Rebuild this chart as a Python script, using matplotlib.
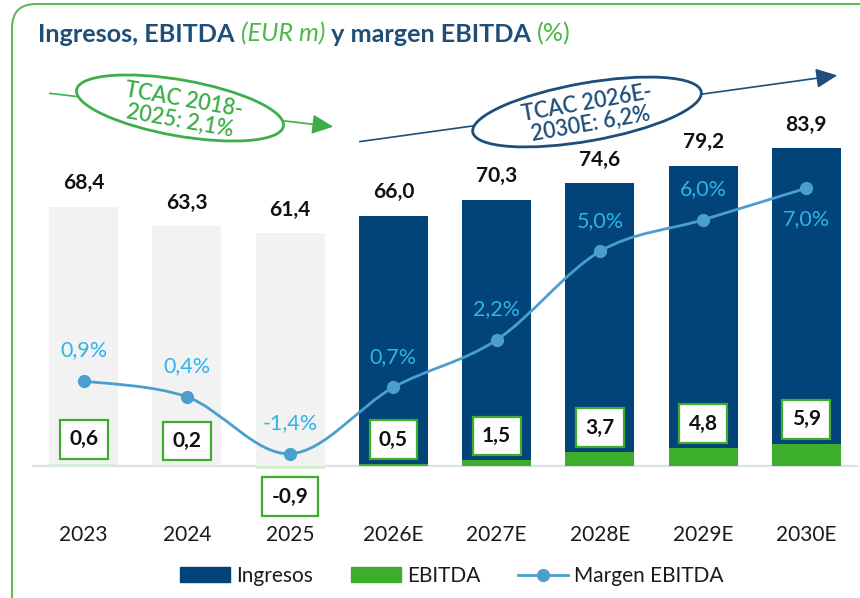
import matplotlib
matplotlib.use('Agg')
import numpy as np
import matplotlib.pyplot as plt
from matplotlib.path import Path
from matplotlib.patches import PathPatch, Ellipse, FancyBboxPatch, Patch, FancyArrowPatch
from matplotlib.lines import Line2D
from matplotlib.transforms import Affine2D

plt.rcParams['font.family'] = ['Lato', 'DejaVu Sans']

years = ['2023', '2024', '2025', '2026E', '2027E', '2028E', '2029E', '2030E']
ingresos = [68.4, 63.3, 61.4, 66.0, 70.3, 74.6, 79.2, 83.9]
ebitda = [0.6, 0.2, -0.9, 0.5, 1.5, 3.7, 4.8, 5.9]
margen = [0.9, 0.4, -1.4, 0.7, 2.2, 5.0, 6.0, 7.0]
n_real = 3  # 2023-2025 are actuals, the rest are estimates

DARK_BLUE = '#02437A'
TITLE_BLUE = '#1F4E79'
GREEN = '#3DAE2B'
LIGHT_GREEN = '#D4F0CF'
GREY = '#F2F2F2'
LINE_BLUE = '#4A9FCF'
PCT_BLUE = '#2DB4E8'


def fmt(v):
    return f'{v:.1f}'.replace('.', ',')


W, H = 860, 598
fig = plt.figure(figsize=(W / 100, H / 100), dpi=100)
# pixel coordinates measured from the top-left corner
pix = Affine2D().scale(1 / 100, -1 / 100).translate(0, H / 100) + fig.dpi_scale_trans

ax = fig.add_axes([32 / W, 1 - 500 / H, (858 - 32) / W, 400 / H])
ax2 = ax.twinx()

x = np.arange(len(years))
bar_cols = [GREY] * n_real + [DARK_BLUE] * (len(years) - n_real)
ebit_cols = [LIGHT_GREEN] * n_real + [GREEN] * (len(years) - n_real)

ax.bar(x, ingresos, width=0.67, color=bar_cols, zorder=2)
ax.bar(x, ebitda, width=0.67, color=ebit_cols, zorder=3)
ax.axhline(0, color='#DCE1E7', lw=1.6, zorder=1)

for xi, v in zip(x, ingresos):
    ax.annotate(fmt(v), (xi, v), xytext=(0, 17), textcoords='offset points',
                ha='center', va='center', fontsize=15, fontweight='bold', color='#111111')

for xi, v in zip(x, ebitda):
    off = 17.5 if v >= 0 else -19.5
    ax.annotate(fmt(v), (xi, v), xytext=(0, off), textcoords='offset points',
                ha='center', va='center', fontsize=15, fontweight='bold', color='#111111',
                zorder=6,
                bbox=dict(boxstyle='square,pad=0.45', fc='white', ec=GREEN, lw=1.6))

ax.set_xlim(-0.5, len(years) - 0.5)
ax.set_ylim(-8.97, 96.6)
ax2.set_ylim(-2.864, 9.79)

# smoothed margin line (Bezier segments through the data points)
pts = np.column_stack([x, margen]).astype(float)
ext = np.vstack([pts[0], pts, pts[-1]])
verts = [pts[0]]
codes = [Path.MOVETO]
for i in range(len(pts) - 1):
    p0, p1, p2, p3 = ext[i], ext[i + 1], ext[i + 2], ext[i + 3]
    verts += [p1 + (p2 - p0) / 6, p2 - (p3 - p1) / 6, p2]
    codes += [Path.CURVE4] * 3
ax2.add_patch(PathPatch(Path(verts, codes), fc='none', ec=LINE_BLUE, lw=2.0, zorder=4))
ax2.plot(x, margen, 'o', color=LINE_BLUE, ms=8.5, zorder=5)

for i, (xi, v) in enumerate(zip(x, margen)):
    off = -22 if i == len(margen) - 1 else 22
    ax2.annotate(fmt(v) + '%', (xi, v), xytext=(0, off), textcoords='offset points',
                 ha='center', va='center', fontsize=15.5, color=PCT_BLUE)

ax.set_xticks(x, years)
ax.tick_params(axis='x', length=0, pad=18, labelsize=15, labelcolor='#1A1A1A')
ax.set_yticks([])
ax2.set_yticks([])
for a in (ax, ax2):
    for s in a.spines.values():
        s.set_visible(False)

# title in coloured pieces
title_parts = [
    ('Ingresos, EBITDA ', TITLE_BLUE, 'bold', 'normal'),
    ('(EUR m)', '#4DB848', 'normal', 'italic'),
    (' y margen EBITDA ', TITLE_BLUE, 'bold', 'normal'),
    ('(%)', '#4DB848', 'normal', 'normal'),
]
renderer = fig.canvas.get_renderer()
tx = 38
for s, c, w, st in title_parts:
    t = fig.text(0, 0, s, color=c, fontweight=w, fontstyle=st, fontsize=18.2,
                 ha='left', va='center', transform=pix)
    t.set_position((tx, 34))
    tx += t.get_window_extent(renderer).width * 100 / fig.dpi

# CAGR arrows with labelled ellipses
for (x0, y0), (x1, y1), (cx, cy), (ew, eh), ang, label, col in [
    ((47, 93), (336, 127), (180, 108), (210, 56), -10, 'TCAC 2018-\n2025: 2,1%', '#3DAE49'),
    ((357, 142), (840, 75), (587, 112), (232, 58), 10, 'TCAC 2026E-\n2030E: 6,2%', TITLE_BLUE),
]:
    fig.patches.append(FancyArrowPatch((x0, y0), (x1, y1), transform=pix,
                                       arrowstyle='-|>,head_length=13,head_width=6',
                                       mutation_scale=1, color=col, lw=1.2))
    fig.patches.append(Ellipse((cx, cy), ew, eh, angle=-ang,
                               transform=pix, fc='white', ec=col, lw=2.0))
    fig.text(cx + 2, cy + 2, label, transform=pix, rotation=ang, rotation_mode='anchor',
             ha='center', va='center', fontsize=15.5, fontweight='semibold', color=col,
             linespacing=1.0, multialignment='center')

# outer rounded frame
fig.patches.append(FancyBboxPatch((12, 4), 880, 620, transform=pix,
                                  boxstyle='round,pad=0,rounding_size=24',
                                  fc='none', ec='#5DBB55', lw=1.5))

handles = [
    Patch(color=DARK_BLUE, label='Ingresos'),
    Patch(color=GREEN, label='EBITDA'),
    Line2D([], [], color=LINE_BLUE, lw=2.0, marker='o', ms=8.5, label='Margen EBITDA'),
]
fig.legend(handles=handles, loc='center', bbox_to_anchor=(452 / W, 1 - 576 / H),
           ncol=3, frameon=False, fontsize=15, handlelength=2.4, handleheight=0.7,
           columnspacing=1.8, handletextpad=0.3, labelcolor='#1A1A1A')

fig.savefig('out.png', dpi=100, facecolor='white')
